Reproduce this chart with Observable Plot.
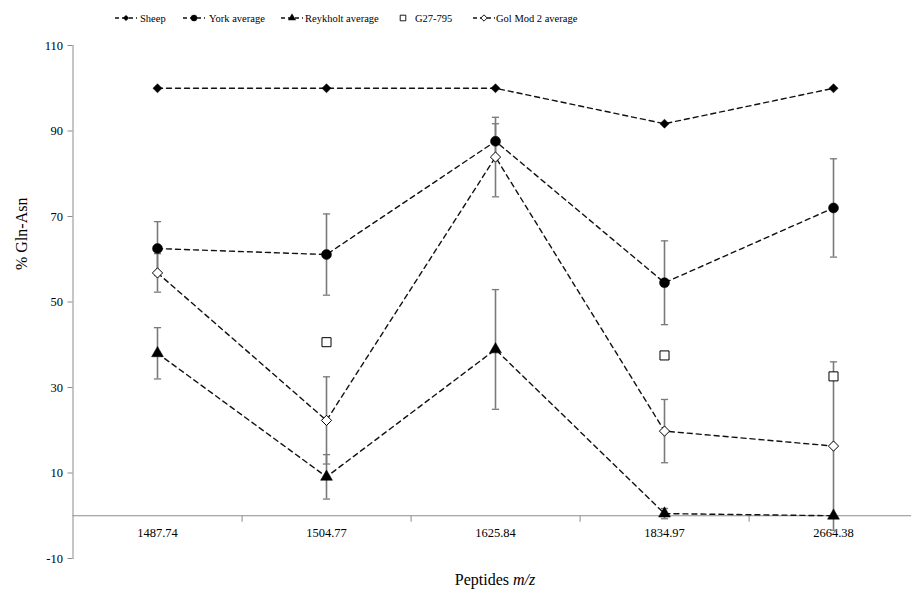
<!DOCTYPE html>
<html><head><meta charset="utf-8">
<script src="https://cdn.jsdelivr.net/npm/d3@7"></script>
<script src="https://cdn.jsdelivr.net/npm/@observablehq/plot@0.6"></script>
<style>
body{margin:0;background:#fff;font-family:"Liberation Serif","Times New Roman",serif;}
#wrap{position:relative;width:911px;height:591px;overflow:hidden;}
#legend{position:relative;height:32px;width:911px;}
.item{position:absolute;top:3px;height:30px;display:flex;align-items:center;font-family:"Liberation Serif","Times New Roman",serif;font-size:10.5px;color:#000;white-space:nowrap;}
.item svg{display:block;}
#chart svg{display:block;}
#xtitle{position:absolute;top:569px;left:72px;width:846px;text-align:center;font-size:16px;line-height:22px;font-family:"Liberation Serif","Times New Roman",serif;}
</style></head><body>
<div id="wrap"><div id="legend"></div><div id="chart"></div><div id="xtitle">Peptides <i>m/z</i></div></div>
<script>
const categories = ["1487.74", "1504.77", "1625.84", "1834.97", "2664.38"];
const yTicks = [-10, 10, 30, 50, 70, 90, 110];
const sheep = [100, 100, 100, 91.7, 100];
const york = [62.5, 61.1, 87.6, 54.5, 72.0];
const yorkErr = [6.3, 9.5, 4.1, 9.8, 11.5];
const reykholt = [38.0, 9.1, 38.9, 0.5, 0];
const reykholtErr = [6.0, 5.2, 14.0, 1.2, null];
const g27 = [null, 40.6, null, 37.5, 32.6];
const golMod = [56.8, 22.3, 83.9, 19.8, 16.3];
const golModErr = [4.5, 10.2, 9.3, 7.4, 19.7];
const seriesNames = ["Sheep", "York average", "Reykholt average", "G27-795", "Gol Mod 2 average"];

const seriesDefs = [
  {name: seriesNames[0], values: sheep, errs: null, line: true, symbol: "diamond2", r: 4.1, fill: "#000"},
  {name: seriesNames[1], values: york, errs: yorkErr, line: true, symbol: "circle", r: 5, fill: "#000"},
  {name: seriesNames[2], values: reykholt, errs: reykholtErr, line: true, symbol: "triangle", r: 4.4, fill: "#000"},
  {name: seriesNames[3], values: g27, errs: null, line: false, symbol: "square", r: 5.1, fill: "#fff"},
  {name: seriesNames[4], values: golMod, errs: golModErr, line: true, symbol: "diamond2", r: 4.6, fill: "#fff"}
];

const rows = [];
seriesDefs.forEach(s => categories.forEach((c, i) => {
  if (s.values[i] != null) rows.push({series: s.name, cat: c, value: s.values[i], err: s.errs ? s.errs[i] : null});
}));
const errRows = rows.filter(d => d.err != null && d.err > 0);
const capRows = errRows.flatMap(d => [{cat: d.cat, v: d.value - d.err}, {cat: d.cat, v: d.value + d.err}]);

const capSymbol = {draw(ctx, size) { const r = Math.sqrt(size / Math.PI); ctx.moveTo(-r, 0); ctx.lineTo(r, 0); }};
const vtickSymbol = {draw(ctx, size) { ctx.moveTo(0, 0); ctx.lineTo(0, 6); }};

const xRange = [157.1, 833.9];
const step = (xRange[1] - xRange[0]) / (categories.length - 1);
const errColor = "#7a7a7a";
const axisColor = "#8c8c8c";

const marks = [
  Plot.ruleY([0], {stroke: axisColor, strokeWidth: 1}),
  Plot.frame({anchor: "left", stroke: axisColor, strokeWidth: 1}),
  Plot.axisY({ticks: yTicks, tickSize: 5, tickPadding: 5, fontSize: 12.5, stroke: axisColor, fill: "#000", label: null, tickFormat: d => String(d)}),
  Plot.text(["% Gln-Asn"], {frameAnchor: "left", rotate: -90, dx: -51, dy: -32, fontSize: 16, fill: "#000"}),
  Plot.dot(categories.slice(0, categories.length - 1), {x: d => d, y: () => 0, dx: step / 2, symbol: vtickSymbol, r: 3, stroke: axisColor, strokeWidth: 1}),
  Plot.text(categories, {x: d => d, y: () => 0, dy: 17, fontSize: 12.5, fill: "#000"}),
  Plot.ruleX(errRows, {x: "cat", y1: d => d.value - d.err, y2: d => d.value + d.err, stroke: errColor, strokeWidth: 1.6}),
  Plot.dot(capRows, {x: "cat", y: "v", symbol: capSymbol, r: 3.6, stroke: errColor, strokeWidth: 1.3}),
  Plot.line(rows.filter(d => seriesDefs.find(s => s.name === d.series).line), {x: "cat", y: "value", z: "series", stroke: "#111", strokeWidth: 1.4, strokeDasharray: "5,4"})
];
seriesDefs.forEach(s => {
  marks.push(Plot.dot(rows.filter(d => d.series === s.name), {x: "cat", y: "value", symbol: s.symbol, r: s.r, fill: s.fill, stroke: "#000", strokeWidth: s.fill === "#fff" ? 1 : 0.5}));
});

const chart = Plot.plot({
  width: 911, height: 536,
  marginTop: 13, marginBottom: 10, marginLeft: 72.5, marginRight: 0,
  style: {fontFamily: "'Liberation Serif','Times New Roman',serif", background: "#fff", overflow: "visible"},
  x: {type: "point", domain: categories, range: xRange, padding: 0, axis: null},
  y: {domain: [-10, 110], axis: null},
  marks
});
document.getElementById("chart").appendChild(chart);

// legend: marker center x for each entry
const legendMarkerX = [126, 194, 292, 403, 484];
const legendTextGap = [14, 15, 13, 12, 12];
const legend = document.getElementById("legend");
const symMap = {diamond2: d3.symbolDiamond2, circle: d3.symbolCircle, triangle: d3.symbolTriangle, square: d3.symbolSquare};
seriesDefs.forEach((s, i) => {
  const item = document.createElement("div");
  item.className = "item";
  const half = 11;
  item.style.left = (legendMarkerX[i] - half) + "px";
  const svg = d3.create("svg").attr("width", half + legendTextGap[i]).attr("height", 30);
  if (s.line) svg.append("line").attr("x1", 0).attr("x2", 2 * half).attr("y1", 15).attr("y2", 15)
    .attr("stroke", "#111").attr("stroke-width", 1.3).attr("stroke-dasharray", "4,3");
  const rr = s.r * 0.62;
  svg.append("path").attr("transform", `translate(${half},15)`)
    .attr("d", d3.symbol(symMap[s.symbol], rr * rr * Math.PI)())
    .attr("fill", s.fill).attr("stroke", "#000").attr("stroke-width", s.fill === "#fff" ? 0.9 : 0.4);
  item.appendChild(svg.node());
  const sp = document.createElement("span");
  sp.textContent = s.name;
  item.appendChild(sp);
  legend.appendChild(item);
});
</script>
</body></html>
